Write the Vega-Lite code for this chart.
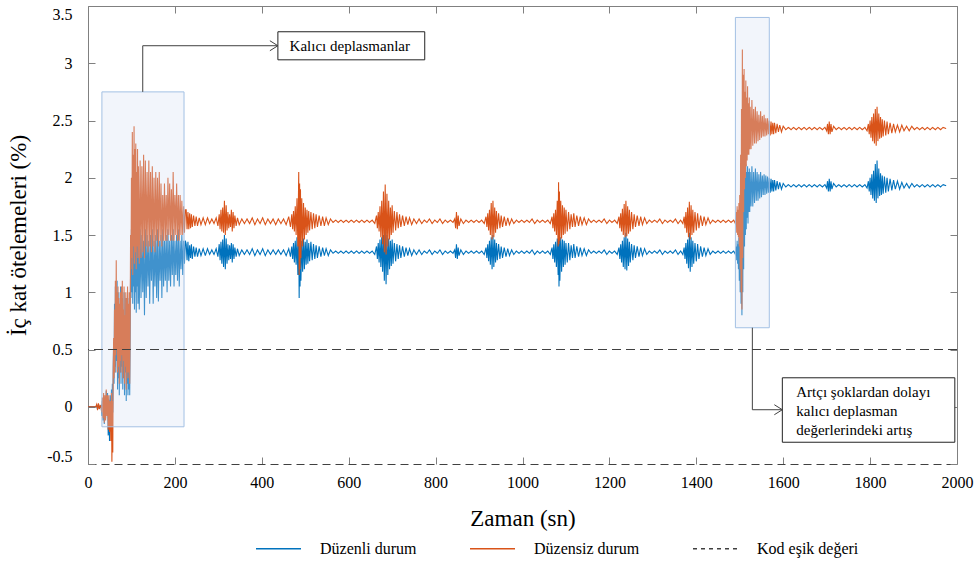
{
"$schema": "https://vega.github.io/schema/vega-lite/v6.json",
"width": 869, "height": 458,
"autosize": {"type": "none"},
"padding": {"left": 88, "top": 6, "right": 18, "bottom": 103},
"background": "white",
"config": {
  "view": {"stroke": null},
  "font": "Liberation Serif, Times New Roman, serif",
  "text": {"font": "Liberation Serif, Times New Roman, serif"},
  "legend": {"labelFont": "Liberation Serif, Times New Roman, serif"},
  "axis": {"labelFont": "Liberation Serif, Times New Roman, serif", "titleFont": "Liberation Serif, Times New Roman, serif", "labelFontSize": 16, "titleFontSize": 23, "titleFontWeight": "normal", "labelColor": "#000", "titleColor": "#000", "domainColor": "#808080", "tickColor": "#808080", "grid": false}
},
"datasets": {
"sig": [
{"t":0,"b":0,"o":0},{"t":10,"b":0,"o":0},{"t":18,"b":0,"o":0},{"t":20,"b":0.01,"o":0.02},{"t":22,"b":-0.02,"o":-0.03},{"t":24,"b":0.02,"o":0.03},{"t":26,"b":-0.01,"o":-0.02},{"t":28,"b":0,"o":0.01},{"t":30,"b":0.01,"o":0},
{"t":32,"b":-0.08,"o":-0.05},{"t":33,"b":0.05,"o":0.08},{"t":34.5,"b":-0.12,"o":-0.1},{"t":36,"b":0.1,"o":0.12},{"t":37.5,"b":-0.15,"o":-0.14},{"t":39,"b":0.08,"o":0.1},{"t":40.5,"b":-0.1,"o":-0.12},{"t":42,"b":0.14,"o":0.15},{"t":43.5,"b":-0.05,"o":-0.08},{"t":45,"b":0.12,"o":0.1},{"t":46.5,"b":-0.25,"o":-0.2},{"t":48,"b":0.06,"o":0.1},{"t":49.5,"b":-0.3,"o":-0.22},{"t":51,"b":0.1,"o":0.05},{"t":52.5,"b":-0.18,"o":-0.3},{"t":54,"b":0.15,"o":0.12},{"t":55,"b":-0.15,"o":-0.48},{"t":56,"b":0.2,"o":0.05},{"t":57,"b":-0.05,"o":-0.4},{"t":58,"b":0.35,"o":0.3},
{"t":59,"b":0.55,"o":0.6},{"t":60,"b":0.2,"o":0.25},{"t":61,"b":0.9,"o":0.85},{"t":62,"b":0.35,"o":0.3},{"t":63,"b":1.05,"o":1.1},{"t":64,"b":0.3,"o":0.45},{"t":65,"b":0.95,"o":1.28},{"t":66,"b":0.4,"o":0.5},{"t":67,"b":1.1,"o":1.0},{"t":68,"b":0.15,"o":0.3},{"t":69,"b":0.85,"o":1.05},{"t":70,"b":0.25,"o":0.35},{"t":71,"b":1.0,"o":0.95},{"t":72,"b":0.1,"o":0.2},{"t":73,"b":0.75,"o":0.9},{"t":74,"b":0.3,"o":0.4},{"t":75,"b":1.05,"o":1.0},{"t":76,"b":0.2,"o":0.3},{"t":77,"b":0.9,"o":1.05},{"t":78,"b":0.35,"o":0.45},{"t":79,"b":0.95,"o":1.1},{"t":80,"b":0.15,"o":0.25},{"t":81,"b":0.8,"o":0.85},{"t":82,"b":0.25,"o":0.4},{"t":83,"b":1.0,"o":1.05},{"t":84,"b":0.1,"o":0.2},{"t":85,"b":0.7,"o":0.8},{"t":86,"b":0.3,"o":0.35},{"t":87,"b":0.95,"o":1.0},{"t":88,"b":0.05,"o":0.15},{"t":89,"b":0.75,"o":0.95},{"t":90,"b":0.2,"o":0.3},{"t":91,"b":1.0,"o":1.05},{"t":92,"b":0.1,"o":0.25},{"t":93,"b":0.8,"o":0.9},{"t":94,"b":0.15,"o":0.3},{"t":95,"b":0.95,"o":1.0},{"t":96,"b":0.1,"o":0.2},{"t":97,"b":0.6,"o":0.7},
{"t":98,"b":1.2,"o":1.5},{"t":99,"b":0.95,"o":1.2},{"t":100,"b":1.55,"o":2.0},{"t":101,"b":1.0,"o":1.3},{"t":102,"b":1.6,"o":2.4},{"t":103,"b":0.9,"o":1.15},{"t":104,"b":1.5,"o":2.2},{"t":105,"b":1.05,"o":1.4},{"t":106,"b":1.6,"o":2.45},{"t":107,"b":0.85,"o":1.25},{"t":108,"b":1.45,"o":2.25},{"t":109,"b":1.0,"o":1.35},{"t":110,"b":1.55,"o":2.3},{"t":111,"b":0.82,"o":1.2},{"t":112,"b":1.5,"o":2.05},{"t":113,"b":1.05,"o":1.4},{"t":114,"b":1.55,"o":2.25},{"t":115,"b":0.9,"o":1.3},
{"t":116,"b":1.45,"o":2.1},{"t":118,"b":0.85,"o":1.25},{"t":120,"b":1.55,"o":2.15},{"t":122,"b":0.95,"o":1.3},{"t":124,"b":1.5,"o":2.1},{"t":126,"b":1.0,"o":1.35},{"t":128,"b":1.45,"o":2.2},{"t":130,"b":0.8,"o":1.3},{"t":132,"b":1.55,"o":2.15},{"t":134,"b":0.95,"o":1.4},{"t":136,"b":1.5,"o":2.05},{"t":138,"b":1.05,"o":1.35},{"t":140,"b":1.45,"o":2.15},{"t":142,"b":0.9,"o":1.4},{"t":144,"b":1.5,"o":2.05},{"t":146,"b":1.1,"o":1.35},{"t":148,"b":1.55,"o":2.1},{"t":150,"b":0.9,"o":1.4},{"t":152,"b":1.45,"o":2.0},{"t":154,"b":1.05,"o":1.35},{"t":156,"b":1.5,"o":2.05},{"t":158,"b":0.95,"o":1.45},{"t":160,"b":1.55,"o":2.0},{"t":162,"b":0.92,"o":1.4},{"t":164,"b":1.45,"o":2.05},{"t":166,"b":1.1,"o":1.45},{"t":168,"b":1.5,"o":1.95},{"t":170,"b":0.95,"o":1.4},{"t":172,"b":1.55,"o":1.85},{"t":174,"b":1.05,"o":1.45},{"t":176,"b":1.45,"o":1.95},{"t":178,"b":1.1,"o":1.45},{"t":180,"b":1.5,"o":1.85},{"t":182,"b":1.0,"o":1.45},{"t":184,"b":1.55,"o":2.0},{"t":186,"b":1.1,"o":1.5},{"t":188,"b":1.45,"o":1.95},{"t":190,"b":1.05,"o":1.45},{"t":192,"b":1.5,"o":1.9},{"t":194,"b":1.15,"o":1.45},{"t":196,"b":1.55,"o":2.05},{"t":198,"b":1.05,"o":1.45},{"t":200,"b":1.45,"o":1.85},{"t":202,"b":1.15,"o":1.5},{"t":204,"b":1.5,"o":1.95},{"t":206,"b":1.1,"o":1.45},{"t":208,"b":1.55,"o":1.85},{"t":210,"b":1.05,"o":1.45},{"t":212,"b":1.45,"o":1.85},{"t":214,"b":1.2,"o":1.5},{"t":216,"b":1.5,"o":1.8},{"t":218,"b":1.15,"o":1.5},{"t":220,"b":1.45,"o":1.75},{"t":222,"b":1.25,"o":1.52},{"t":224,"b":1.45,"o":1.72},
{"t":226,"b":1.42,"o":1.72},{"t":228,"b":1.28,"o":1.55},{"t":230,"b":1.44,"o":1.7},{"t":232,"b":1.27,"o":1.55},{"t":234,"b":1.41,"o":1.69},{"t":236,"b":1.3,"o":1.56},{"t":238,"b":1.42,"o":1.68},{"t":240,"b":1.29,"o":1.57},{"t":243,"b":1.4,"o":1.67},{"t":246,"b":1.31,"o":1.58},{"t":249,"b":1.39,"o":1.66},{"t":252,"b":1.31,"o":1.58},{"t":256,"b":1.38,"o":1.65},{"t":260,"b":1.32,"o":1.59},{"t":265,"b":1.38,"o":1.65},{"t":270,"b":1.32,"o":1.59},{"t":275,"b":1.38,"o":1.65},{"t":280,"b":1.33,"o":1.6},{"t":285,"b":1.37,"o":1.64},{"t":290,"b":1.33,"o":1.6},{"t":295,"b":1.38,"o":1.65},{"t":299,"b":1.31,"o":1.58},
{"t":302,"b":1.42,"o":1.68},{"t":304,"b":1.28,"o":1.55},{"t":306,"b":1.44,"o":1.72},{"t":308,"b":1.25,"o":1.53},{"t":310,"b":1.46,"o":1.74},{"t":312,"b":1.22,"o":1.52},{"t":314,"b":1.5,"o":1.8},{"t":316,"b":1.2,"o":1.5},{"t":318,"b":1.47,"o":1.76},{"t":320,"b":1.25,"o":1.54},{"t":322,"b":1.42,"o":1.7},{"t":324,"b":1.28,"o":1.56},{"t":326,"b":1.41,"o":1.68},{"t":328,"b":1.29,"o":1.57},{"t":330,"b":1.43,"o":1.72},{"t":332,"b":1.26,"o":1.53},{"t":334,"b":1.42,"o":1.7},{"t":336,"b":1.29,"o":1.56},{"t":338,"b":1.39,"o":1.67},{"t":341,"b":1.31,"o":1.58},{"t":344,"b":1.38,"o":1.65},{"t":348,"b":1.32,"o":1.59},
{"t":354,"b":1.37,"o":1.64},{"t":360,"b":1.33,"o":1.6},{"t":366,"b":1.37,"o":1.64},{"t":372,"b":1.33,"o":1.6},{"t":378,"b":1.38,"o":1.65},{"t":384,"b":1.32,"o":1.59},{"t":390,"b":1.37,"o":1.64},{"t":396,"b":1.33,"o":1.6},{"t":402,"b":1.38,"o":1.65},{"t":408,"b":1.32,"o":1.59},{"t":414,"b":1.37,"o":1.64},{"t":420,"b":1.33,"o":1.6},{"t":426,"b":1.37,"o":1.64},{"t":432,"b":1.33,"o":1.59},{"t":438,"b":1.37,"o":1.64},{"t":444,"b":1.33,"o":1.6},{"t":450,"b":1.37,"o":1.64},{"t":456,"b":1.32,"o":1.59},{"t":462,"b":1.38,"o":1.66},{"t":466,"b":1.31,"o":1.57},
{"t":469,"b":1.4,"o":1.68},{"t":471,"b":1.29,"o":1.55},{"t":473,"b":1.43,"o":1.71},{"t":475,"b":1.26,"o":1.53},{"t":477,"b":1.45,"o":1.75},{"t":479,"b":1.24,"o":1.5},{"t":481,"b":1.48,"o":1.82},{"t":483,"b":1.15,"o":1.4},{"t":485,"b":1.5,"o":2.05},{"t":486,"b":0.95,"o":1.15},{"t":487,"b":1.52,"o":1.95},{"t":488,"b":1.05,"o":1.2},{"t":489,"b":1.48,"o":1.9},{"t":490,"b":1.1,"o":1.3},{"t":492,"b":1.45,"o":1.82},{"t":494,"b":1.18,"o":1.4},{"t":496,"b":1.47,"o":1.78},{"t":498,"b":1.2,"o":1.46},{"t":500,"b":1.44,"o":1.74},{"t":502,"b":1.24,"o":1.5},{"t":504,"b":1.46,"o":1.72},{"t":506,"b":1.25,"o":1.52},{"t":508,"b":1.43,"o":1.71},{"t":510,"b":1.27,"o":1.54},{"t":513,"b":1.44,"o":1.7},{"t":516,"b":1.28,"o":1.55},{"t":519,"b":1.42,"o":1.69},{"t":522,"b":1.29,"o":1.56},{"t":525,"b":1.41,"o":1.68},{"t":528,"b":1.3,"o":1.57},{"t":532,"b":1.4,"o":1.67},{"t":536,"b":1.31,"o":1.58},{"t":540,"b":1.39,"o":1.66},{"t":544,"b":1.32,"o":1.58},{"t":548,"b":1.38,"o":1.65},{"t":553,"b":1.32,"o":1.59},{"t":558,"b":1.37,"o":1.64},
{"t":564,"b":1.34,"o":1.61},{"t":570,"b":1.36,"o":1.63},{"t":576,"b":1.34,"o":1.61},{"t":582,"b":1.36,"o":1.63},{"t":588,"b":1.34,"o":1.61},{"t":594,"b":1.36,"o":1.63},{"t":600,"b":1.34,"o":1.61},{"t":606,"b":1.36,"o":1.63},{"t":612,"b":1.34,"o":1.61},{"t":618,"b":1.36,"o":1.63},{"t":624,"b":1.34,"o":1.61},{"t":630,"b":1.36,"o":1.63},{"t":636,"b":1.34,"o":1.61},{"t":642,"b":1.36,"o":1.63},{"t":648,"b":1.34,"o":1.61},{"t":654,"b":1.36,"o":1.63},{"t":660,"b":1.33,"o":1.6},
{"t":664,"b":1.4,"o":1.67},{"t":666,"b":1.29,"o":1.56},{"t":668,"b":1.43,"o":1.7},{"t":670,"b":1.26,"o":1.53},{"t":672,"b":1.46,"o":1.75},{"t":674,"b":1.22,"o":1.48},{"t":676,"b":1.48,"o":1.8},{"t":678,"b":1.18,"o":1.42},{"t":680,"b":1.5,"o":1.88},{"t":682,"b":1.1,"o":1.35},{"t":684,"b":1.55,"o":1.94},{"t":686,"b":1.07,"o":1.33},{"t":688,"b":1.5,"o":1.86},{"t":690,"b":1.15,"o":1.4},{"t":692,"b":1.47,"o":1.8},{"t":694,"b":1.2,"o":1.46},{"t":696,"b":1.45,"o":1.74},{"t":698,"b":1.23,"o":1.5},{"t":700,"b":1.46,"o":1.76},{"t":702,"b":1.25,"o":1.52},{"t":705,"b":1.43,"o":1.71},{"t":708,"b":1.27,"o":1.54},{"t":711,"b":1.42,"o":1.7},{"t":714,"b":1.29,"o":1.56},{"t":717,"b":1.41,"o":1.68},{"t":720,"b":1.3,"o":1.57},{"t":724,"b":1.4,"o":1.67},{"t":728,"b":1.31,"o":1.58},{"t":732,"b":1.39,"o":1.66},{"t":736,"b":1.32,"o":1.59},{"t":740,"b":1.38,"o":1.65},{"t":745,"b":1.32,"o":1.59},{"t":750,"b":1.37,"o":1.64},{"t":756,"b":1.33,"o":1.6},
{"t":762,"b":1.37,"o":1.64},{"t":768,"b":1.33,"o":1.6},{"t":774,"b":1.36,"o":1.63},{"t":780,"b":1.34,"o":1.61},{"t":786,"b":1.37,"o":1.64},{"t":792,"b":1.33,"o":1.6},{"t":798,"b":1.36,"o":1.63},{"t":804,"b":1.34,"o":1.61},{"t":810,"b":1.37,"o":1.64},{"t":816,"b":1.33,"o":1.6},{"t":822,"b":1.36,"o":1.63},{"t":828,"b":1.34,"o":1.61},{"t":834,"b":1.36,"o":1.63},{"t":840,"b":1.34,"o":1.61},{"t":844,"b":1.37,"o":1.64},{"t":846,"b":1.3,"o":1.56},{"t":848,"b":1.42,"o":1.7},{"t":850,"b":1.29,"o":1.55},{"t":852,"b":1.39,"o":1.67},{"t":854,"b":1.32,"o":1.58},{"t":858,"b":1.37,"o":1.64},{"t":864,"b":1.33,"o":1.6},{"t":870,"b":1.36,"o":1.63},{"t":876,"b":1.34,"o":1.61},{"t":882,"b":1.36,"o":1.63},{"t":888,"b":1.34,"o":1.61},{"t":894,"b":1.36,"o":1.63},{"t":900,"b":1.34,"o":1.61},{"t":906,"b":1.36,"o":1.63},{"t":912,"b":1.33,"o":1.6},
{"t":916,"b":1.39,"o":1.66},{"t":918,"b":1.3,"o":1.57},{"t":920,"b":1.42,"o":1.69},{"t":922,"b":1.27,"o":1.54},{"t":924,"b":1.45,"o":1.72},{"t":926,"b":1.24,"o":1.5},{"t":928,"b":1.48,"o":1.78},{"t":930,"b":1.2,"o":1.46},{"t":932,"b":1.5,"o":1.8},{"t":934,"b":1.22,"o":1.48},{"t":936,"b":1.46,"o":1.74},{"t":938,"b":1.26,"o":1.52},{"t":940,"b":1.43,"o":1.71},{"t":942,"b":1.28,"o":1.55},{"t":945,"b":1.42,"o":1.69},{"t":948,"b":1.29,"o":1.56},{"t":951,"b":1.4,"o":1.67},{"t":954,"b":1.3,"o":1.57},{"t":958,"b":1.39,"o":1.66},{"t":962,"b":1.31,"o":1.58},{"t":966,"b":1.38,"o":1.65},{"t":970,"b":1.32,"o":1.59},{"t":975,"b":1.37,"o":1.64},{"t":980,"b":1.33,"o":1.6},
{"t":986,"b":1.36,"o":1.63},{"t":992,"b":1.34,"o":1.61},{"t":998,"b":1.36,"o":1.63},{"t":1004,"b":1.34,"o":1.61},{"t":1010,"b":1.36,"o":1.63},{"t":1016,"b":1.34,"o":1.61},{"t":1022,"b":1.37,"o":1.64},{"t":1028,"b":1.33,"o":1.6},{"t":1034,"b":1.36,"o":1.63},{"t":1040,"b":1.34,"o":1.61},{"t":1046,"b":1.36,"o":1.63},{"t":1052,"b":1.34,"o":1.61},{"t":1058,"b":1.36,"o":1.63},{"t":1064,"b":1.33,"o":1.6},
{"t":1068,"b":1.39,"o":1.66},{"t":1070,"b":1.29,"o":1.56},{"t":1072,"b":1.42,"o":1.69},{"t":1074,"b":1.26,"o":1.53},{"t":1076,"b":1.44,"o":1.72},{"t":1078,"b":1.22,"o":1.5},{"t":1080,"b":1.47,"o":1.8},{"t":1082,"b":1.15,"o":1.4},{"t":1083,"b":1.55,"o":1.96},{"t":1084,"b":1.05,"o":1.42},{"t":1085,"b":1.5,"o":1.88},{"t":1086,"b":1.1,"o":1.45},{"t":1088,"b":1.48,"o":1.8},{"t":1090,"b":1.18,"o":1.47},{"t":1092,"b":1.46,"o":1.76},{"t":1094,"b":1.22,"o":1.5},{"t":1096,"b":1.45,"o":1.74},{"t":1098,"b":1.24,"o":1.51},{"t":1100,"b":1.43,"o":1.72},{"t":1103,"b":1.26,"o":1.53},{"t":1106,"b":1.43,"o":1.7},{"t":1109,"b":1.28,"o":1.55},{"t":1112,"b":1.41,"o":1.68},{"t":1115,"b":1.3,"o":1.57},{"t":1118,"b":1.42,"o":1.69},{"t":1121,"b":1.3,"o":1.57},{"t":1125,"b":1.4,"o":1.67},{"t":1129,"b":1.31,"o":1.58},{"t":1133,"b":1.39,"o":1.66},{"t":1137,"b":1.32,"o":1.59},{"t":1142,"b":1.38,"o":1.65},{"t":1147,"b":1.32,"o":1.59},{"t":1152,"b":1.37,"o":1.64},
{"t":1158,"b":1.34,"o":1.61},{"t":1164,"b":1.36,"o":1.63},{"t":1170,"b":1.34,"o":1.61},{"t":1176,"b":1.36,"o":1.63},{"t":1182,"b":1.34,"o":1.61},{"t":1188,"b":1.37,"o":1.64},{"t":1194,"b":1.33,"o":1.6},{"t":1200,"b":1.36,"o":1.63},{"t":1206,"b":1.34,"o":1.61},{"t":1212,"b":1.36,"o":1.63},{"t":1218,"b":1.33,"o":1.6},
{"t":1222,"b":1.39,"o":1.66},{"t":1224,"b":1.29,"o":1.56},{"t":1226,"b":1.42,"o":1.69},{"t":1228,"b":1.26,"o":1.53},{"t":1230,"b":1.45,"o":1.73},{"t":1232,"b":1.22,"o":1.5},{"t":1234,"b":1.48,"o":1.77},{"t":1236,"b":1.2,"o":1.48},{"t":1238,"b":1.52,"o":1.8},{"t":1240,"b":1.19,"o":1.49},{"t":1242,"b":1.47,"o":1.75},{"t":1244,"b":1.23,"o":1.51},{"t":1246,"b":1.44,"o":1.72},{"t":1248,"b":1.26,"o":1.53},{"t":1251,"b":1.42,"o":1.7},{"t":1254,"b":1.28,"o":1.55},{"t":1257,"b":1.41,"o":1.68},{"t":1260,"b":1.3,"o":1.57},{"t":1264,"b":1.4,"o":1.67},{"t":1268,"b":1.31,"o":1.58},{"t":1272,"b":1.39,"o":1.66},{"t":1276,"b":1.32,"o":1.59},{"t":1281,"b":1.38,"o":1.65},{"t":1286,"b":1.33,"o":1.6},
{"t":1292,"b":1.36,"o":1.63},{"t":1298,"b":1.34,"o":1.61},{"t":1304,"b":1.36,"o":1.63},{"t":1310,"b":1.34,"o":1.61},{"t":1316,"b":1.37,"o":1.64},{"t":1322,"b":1.33,"o":1.6},{"t":1328,"b":1.36,"o":1.63},{"t":1334,"b":1.34,"o":1.61},{"t":1340,"b":1.36,"o":1.63},{"t":1346,"b":1.34,"o":1.61},{"t":1352,"b":1.37,"o":1.64},{"t":1358,"b":1.33,"o":1.6},{"t":1364,"b":1.36,"o":1.63},{"t":1369,"b":1.33,"o":1.6},
{"t":1372,"b":1.39,"o":1.66},{"t":1374,"b":1.29,"o":1.56},{"t":1376,"b":1.43,"o":1.7},{"t":1378,"b":1.25,"o":1.52},{"t":1380,"b":1.46,"o":1.74},{"t":1382,"b":1.21,"o":1.48},{"t":1384,"b":1.52,"o":1.79},{"t":1386,"b":1.18,"o":1.46},{"t":1388,"b":1.48,"o":1.76},{"t":1390,"b":1.22,"o":1.5},{"t":1392,"b":1.45,"o":1.72},{"t":1394,"b":1.25,"o":1.52},{"t":1397,"b":1.43,"o":1.7},{"t":1400,"b":1.27,"o":1.54},{"t":1403,"b":1.42,"o":1.69},{"t":1406,"b":1.29,"o":1.56},{"t":1410,"b":1.4,"o":1.67},{"t":1414,"b":1.31,"o":1.58},{"t":1418,"b":1.39,"o":1.66},{"t":1422,"b":1.32,"o":1.59},{"t":1427,"b":1.38,"o":1.65},{"t":1432,"b":1.33,"o":1.6},
{"t":1438,"b":1.36,"o":1.63},{"t":1444,"b":1.34,"o":1.61},{"t":1450,"b":1.36,"o":1.63},{"t":1456,"b":1.34,"o":1.61},{"t":1462,"b":1.36,"o":1.63},{"t":1468,"b":1.34,"o":1.61},{"t":1474,"b":1.36,"o":1.63},{"t":1480,"b":1.34,"o":1.61},{"t":1486,"b":1.36,"o":1.63},{"t":1490,"b":1.33,"o":1.6},
{"t":1492,"b":1.4,"o":1.7},{"t":1493,"b":1.28,"o":1.52},{"t":1494,"b":1.45,"o":1.75},{"t":1495,"b":1.25,"o":1.5},{"t":1496,"b":1.42,"o":1.72},{"t":1497,"b":1.2,"o":1.48},{"t":1498,"b":1.48,"o":1.78},{"t":1499,"b":1.1,"o":1.4},{"t":1500,"b":1.5,"o":1.85},{"t":1501,"b":1.0,"o":1.2},{"t":1502,"b":1.55,"o":2.2},{"t":1503,"b":0.9,"o":1.0},{"t":1504,"b":1.7,"o":2.6},{"t":1505,"b":0.8,"o":0.85},{"t":1506,"b":1.9,"o":3.12},{"t":1507,"b":1.0,"o":1.3},{"t":1508,"b":2.1,"o":2.9},{"t":1509,"b":1.2,"o":1.7},{"t":1510,"b":2.15,"o":2.95},{"t":1511,"b":1.4,"o":1.9},{"t":1512,"b":2.0,"o":2.75},{"t":1513,"b":1.5,"o":2.0},{"t":1514,"b":2.12,"o":2.85},{"t":1515,"b":1.55,"o":2.1},{"t":1516,"b":2.05,"o":2.7},{"t":1517,"b":1.65,"o":2.15},{"t":1518,"b":2.1,"o":2.8},{"t":1519,"b":1.6,"o":2.2},{"t":1520,"b":2.05,"o":2.65},{"t":1521,"b":1.7,"o":2.2},{"t":1522,"b":2.08,"o":2.7},{"t":1523,"b":1.7,"o":2.25},{"t":1524,"b":2.05,"o":2.62},{"t":1526,"b":1.75,"o":2.25},{"t":1528,"b":2.1,"o":2.68},{"t":1530,"b":1.75,"o":2.28},{"t":1532,"b":2.05,"o":2.6},{"t":1534,"b":1.78,"o":2.3},{"t":1536,"b":2.08,"o":2.62},{"t":1538,"b":1.8,"o":2.3},{"t":1540,"b":2.05,"o":2.58},{"t":1542,"b":1.8,"o":2.32},{"t":1544,"b":2.03,"o":2.55},{"t":1546,"b":1.82,"o":2.33},{"t":1548,"b":2.05,"o":2.58},{"t":1550,"b":1.83,"o":2.35},{"t":1552,"b":2.02,"o":2.54},{"t":1554,"b":1.85,"o":2.36},{"t":1556,"b":2.03,"o":2.55},{"t":1558,"b":1.85,"o":2.36},{"t":1560,"b":2.02,"o":2.52},{"t":1562,"b":1.86,"o":2.37},{"t":1564,"b":2.01,"o":2.52},{"t":1566,"b":1.87,"o":2.38},{"t":1568,"b":2.0,"o":2.5},
{"t":1570,"b":1.87,"o":2.37},{"t":1572,"b":1.99,"o":2.49},{"t":1574,"b":1.88,"o":2.38},{"t":1576,"b":1.98,"o":2.48},{"t":1578,"b":1.88,"o":2.38},{"t":1580,"b":1.98,"o":2.48},{"t":1583,"b":1.89,"o":2.39},{"t":1586,"b":1.97,"o":2.47},{"t":1589,"b":1.9,"o":2.4},{"t":1592,"b":1.96,"o":2.46},{"t":1596,"b":1.9,"o":2.4},{"t":1600,"b":1.95,"o":2.45},
{"t":1606,"b":1.92,"o":2.42},{"t":1612,"b":1.94,"o":2.44},{"t":1618,"b":1.92,"o":2.42},{"t":1624,"b":1.94,"o":2.44},{"t":1630,"b":1.92,"o":2.42},{"t":1636,"b":1.94,"o":2.44},{"t":1642,"b":1.92,"o":2.42},{"t":1648,"b":1.94,"o":2.44},{"t":1654,"b":1.92,"o":2.42},{"t":1660,"b":1.94,"o":2.44},{"t":1666,"b":1.92,"o":2.42},{"t":1672,"b":1.94,"o":2.44},{"t":1678,"b":1.92,"o":2.42},{"t":1684,"b":1.94,"o":2.44},{"t":1690,"b":1.92,"o":2.42},{"t":1696,"b":1.94,"o":2.44},
{"t":1700,"b":1.91,"o":2.41},{"t":1702,"b":1.97,"o":2.47},{"t":1704,"b":1.88,"o":2.38},{"t":1706,"b":1.99,"o":2.49},{"t":1708,"b":1.88,"o":2.38},{"t":1710,"b":1.97,"o":2.47},{"t":1712,"b":1.9,"o":2.4},{"t":1716,"b":1.95,"o":2.45},
{"t":1722,"b":1.92,"o":2.42},{"t":1728,"b":1.94,"o":2.44},{"t":1734,"b":1.92,"o":2.42},{"t":1740,"b":1.94,"o":2.44},{"t":1746,"b":1.92,"o":2.42},{"t":1752,"b":1.94,"o":2.44},{"t":1758,"b":1.92,"o":2.42},{"t":1764,"b":1.94,"o":2.44},{"t":1770,"b":1.92,"o":2.42},{"t":1776,"b":1.94,"o":2.44},{"t":1782,"b":1.92,"o":2.42},{"t":1788,"b":1.94,"o":2.44},{"t":1793,"b":1.91,"o":2.41},
{"t":1796,"b":1.97,"o":2.47},{"t":1798,"b":1.88,"o":2.38},{"t":1800,"b":2.0,"o":2.5},{"t":1802,"b":1.85,"o":2.35},{"t":1804,"b":2.03,"o":2.53},{"t":1806,"b":1.82,"o":2.32},{"t":1808,"b":2.06,"o":2.56},{"t":1810,"b":1.8,"o":2.3},{"t":1812,"b":2.12,"o":2.6},{"t":1814,"b":1.78,"o":2.28},{"t":1816,"b":2.15,"o":2.62},{"t":1818,"b":1.82,"o":2.32},{"t":1820,"b":2.08,"o":2.56},{"t":1822,"b":1.84,"o":2.34},{"t":1824,"b":2.04,"o":2.53},{"t":1826,"b":1.85,"o":2.35},{"t":1828,"b":2.02,"o":2.51},{"t":1830,"b":1.86,"o":2.36},{"t":1833,"b":2.01,"o":2.5},{"t":1836,"b":1.87,"o":2.37},{"t":1839,"b":2.0,"o":2.49},{"t":1842,"b":1.88,"o":2.38},{"t":1846,"b":1.99,"o":2.48},{"t":1850,"b":1.89,"o":2.39},{"t":1854,"b":1.98,"o":2.47},{"t":1858,"b":1.9,"o":2.4},{"t":1863,"b":1.97,"o":2.46},{"t":1868,"b":1.9,"o":2.4},{"t":1873,"b":1.96,"o":2.46},{"t":1878,"b":1.91,"o":2.41},
{"t":1884,"b":1.95,"o":2.45},{"t":1890,"b":1.91,"o":2.41},{"t":1896,"b":1.95,"o":2.45},{"t":1902,"b":1.92,"o":2.42},{"t":1908,"b":1.94,"o":2.44},{"t":1914,"b":1.92,"o":2.42},{"t":1920,"b":1.94,"o":2.44},{"t":1926,"b":1.92,"o":2.42},{"t":1932,"b":1.94,"o":2.44},{"t":1938,"b":1.92,"o":2.42},{"t":1944,"b":1.94,"o":2.44},{"t":1950,"b":1.92,"o":2.42},{"t":1956,"b":1.94,"o":2.44},{"t":1962,"b":1.92,"o":2.42},{"t":1968,"b":1.94,"o":2.44},{"t":1975,"b":1.93,"o":2.43}
],
"boxes": [{"x1":32,"x2":221,"y1":-0.175,"y2":2.75},{"x1":1490,"x2":1568,"y1":0.69,"y2":3.4}],
"tboxes": [{"x1":437,"x2":775,"y1":3.03,"y2":3.275},{"x1":1598,"x2":1995,"y1":-0.31,"y2":0.253}],
"conn": [{"g":1,"k":1,"x":126,"y":2.75},{"g":1,"k":2,"x":126,"y":3.153},{"g":1,"k":3,"x":437,"y":3.153},{"g":2,"k":1,"x":1529,"y":0.69},{"g":2,"k":2,"x":1529,"y":-0.026},{"g":2,"k":3,"x":1598,"y":-0.026}],
"heads": [{"x":437,"y":3.153},{"x":1598,"y":-0.026}],
"texts": [{"x":464,"y":3.153,"s":"Kalıcı deplasmanlar"},{"x":1630,"y":0.131,"s":"Artçı şoklardan dolayı"},{"x":1630,"y":-0.035,"s":"kalıcı deplasman"},{"x":1630,"y":-0.201,"s":"değerlerindeki artış"}],
"thr": [{"y":0.5}]
},
"layer": [
{"data":{"name":"sig"},"mark":{"type":"line","strokeWidth":1.1},
 "encoding":{
  "x":{"field":"t","type":"quantitative","scale":{"domain":[0,2000],"nice":false},"axis":{"orient":"bottom","values":[0,200,400,600,800,1000,1200,1400,1600,1800,2000],"labelExpr":"datum.value + ''","tickSize":-7,"labelPadding":17,"title":"Zaman (sn)","titlePadding":17,"domainDash":[8,5],"domainColor":"#404040","labelFlush":false}},
  "y":{"field":"b","type":"quantitative","scale":{"domain":[-0.5,3.5],"nice":false},"axis":{"orient":"left","values":[-0.5,0,0.5,1,1.5,2,2.5,3,3.5],"labelExpr":"datum.value + ''","tickSize":-7,"labelPadding":23,"labelFlush":true,"title":"İç kat ötelemeleri (%)","titlePadding":16}},
  "color":{"datum":"Düzenli durum","type":"nominal","scale":{"domain":["Düzenli durum","Düzensiz durum","Kod eşik değeri"],"range":["#0072BD","#D95319","#404040"]},
   "legend":{"orient":"none","legendX":167,"legendY":519,"direction":"horizontal","columns":3,"title":null,"labelFontSize":16,"labelColor":"#000","symbolType":"stroke","symbolSize":2025,"symbolStrokeWidth":1.5,"labelOffset":18,"columnPadding":50}},
  "strokeDash":{"datum":"Düzenli durum","type":"nominal","scale":{"domain":["Düzenli durum","Düzensiz durum","Kod eşik değeri"],"range":[[1,0],[1,0],[4,4]]}}
 }},
{"data":{"name":"sig"},"mark":{"type":"line","strokeWidth":1.1},
 "encoding":{
  "x":{"field":"t","type":"quantitative","scale":{"domain":[0,2000],"nice":false},"axis":{"orient":"top","values":[0,200,400,600,800,1000,1200,1400,1600,1800,2000],"labels":false,"tickSize":-7,"title":null}},
  "y":{"field":"o","type":"quantitative","scale":{"domain":[-0.5,3.5],"nice":false},"axis":{"orient":"right","values":[-0.5,0,0.5,1,1.5,2,2.5,3,3.5],"labels":false,"tickSize":-7,"title":null}},
  "color":{"datum":"Düzensiz durum","type":"nominal"},
  "strokeDash":{"datum":"Düzensiz durum","type":"nominal"}
 }},
{"data":{"name":"boxes"},"mark":{"type":"rect","fill":"#d4ddf1","fillOpacity":0.3,"stroke":"#a3c0e4","strokeWidth":1},
 "encoding":{"x":{"field":"x1","type":"quantitative","axis":null,"scale":{"domain":[0,2000],"nice":false}},"x2":{"field":"x2"},"y":{"field":"y1","type":"quantitative","axis":null,"scale":{"domain":[-0.5,3.5],"nice":false}},"y2":{"field":"y2"}}},
{"data":{"name":"thr"},"mark":{"type":"rule","strokeDash":[9,5],"strokeWidth":1},
 "encoding":{"y":{"field":"y","type":"quantitative","axis":null,"scale":{"domain":[-0.5,3.5],"nice":false}},"color":{"datum":"Kod eşik değeri","type":"nominal"}}},
{"data":{"name":"tboxes"},"mark":{"type":"rect","fill":"white","stroke":"#222222","strokeWidth":1},
 "encoding":{"x":{"field":"x1","type":"quantitative","axis":null,"scale":{"domain":[0,2000],"nice":false}},"x2":{"field":"x2"},"y":{"field":"y1","type":"quantitative","axis":null,"scale":{"domain":[-0.5,3.5],"nice":false}},"y2":{"field":"y2"}}},
{"data":{"name":"conn"},"mark":{"type":"line","color":"#404040","strokeWidth":1},
 "encoding":{"x":{"field":"x","type":"quantitative","axis":null,"scale":{"domain":[0,2000],"nice":false}},"y":{"field":"y","type":"quantitative","axis":null,"scale":{"domain":[-0.5,3.5],"nice":false}},"detail":{"field":"g","type":"nominal"},"order":{"field":"k","type":"quantitative"}}},
{"data":{"name":"heads"},"mark":{"type":"point","shape":"M-1.6,-1L0,0L-1.6,1","filled":false,"stroke":"#404040","strokeWidth":1,"size":100,"opacity":1},
 "encoding":{"x":{"field":"x","type":"quantitative","axis":null,"scale":{"domain":[0,2000],"nice":false}},"y":{"field":"y","type":"quantitative","axis":null,"scale":{"domain":[-0.5,3.5],"nice":false}}}},
{"data":{"name":"texts"},"mark":{"type":"text","align":"left","baseline":"middle","fontSize":15,"color":"#000"},
 "encoding":{"x":{"field":"x","type":"quantitative","axis":null,"scale":{"domain":[0,2000],"nice":false}},"y":{"field":"y","type":"quantitative","axis":null,"scale":{"domain":[-0.5,3.5],"nice":false}},"text":{"field":"s"}}}
],
"resolve": {"axis": {"x": "independent", "y": "independent"}}
}
